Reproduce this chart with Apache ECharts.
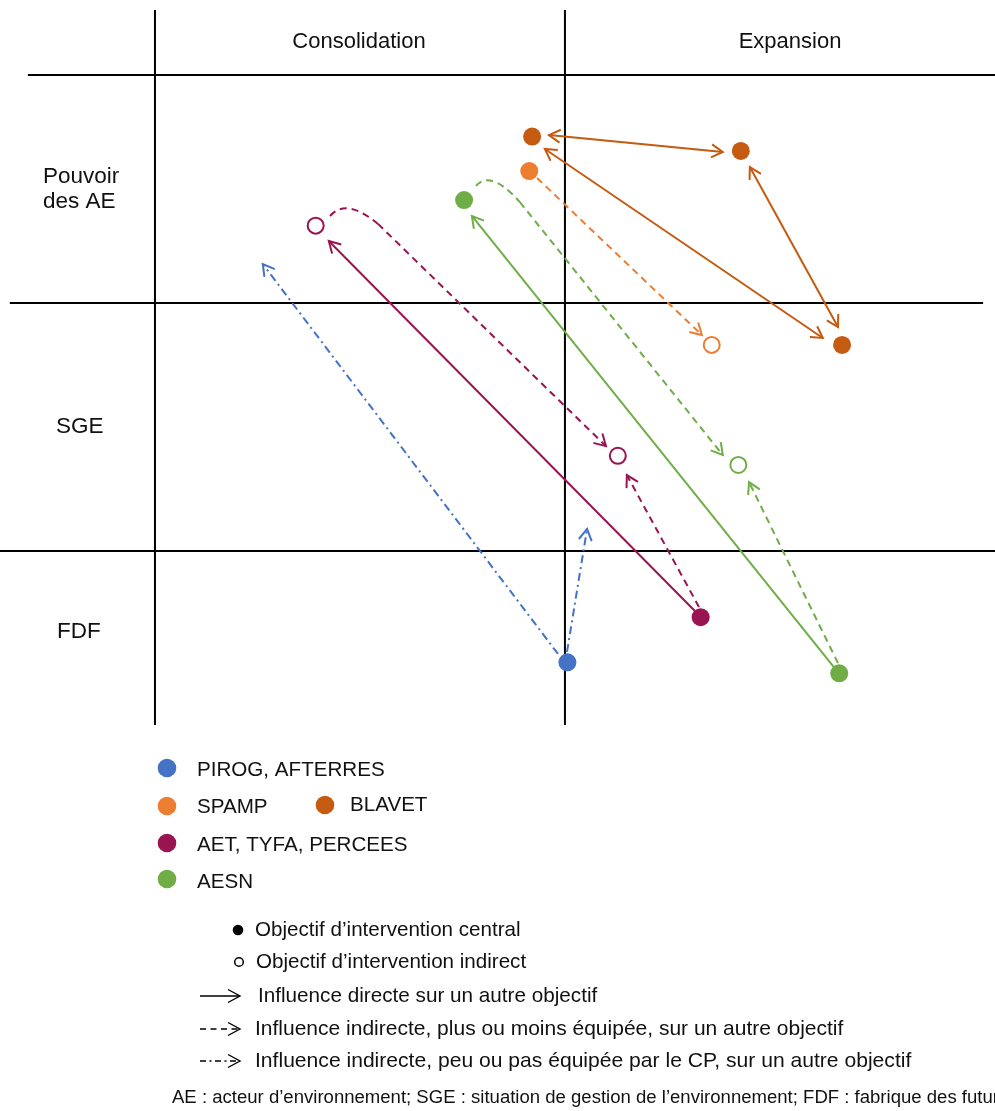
<!DOCTYPE html>
<html><head><meta charset="utf-8">
<script src="https://cdn.jsdelivr.net/npm/echarts/dist/echarts.min.js"></script>
<style>html,body{margin:0;padding:0;background:#fff}#c{width:995px;height:1111px}</style>
</head><body><div id="c"></div><script>
// ---- Data (diagram units: x = Consolidation(-10..0) / Expansion(0..10); y = FDF(<0), SGE(0..10), Pouvoir des AE(>10))
const columnLabels = ['Consolidation', 'Expansion'];
const rowLabels = ['Pouvoir\ndes AE', 'SGE', 'FDF'];
const groupNames = ['PIROG, AFTERRES', 'SPAMP', 'BLAVET', 'AET, TYFA, PERCEES', 'AESN'];

const pirogCentral = [[0.06, -4.49]];
const pirogIndirect = [];
const spampCentral = [[-0.87, 15.32]];
const spampIndirect = [[3.58, 8.31]];
const blavetCentral = [[-0.80, 16.71], [4.29, 16.13], [6.76, 8.31]];
const blavetIndirect = [];
const aetCentral = [[3.31, -2.67]];
const aetIndirect = [[-6.08, 13.12], [1.29, 3.84]];
const aesnCentral = [[-2.46, 14.15], [6.69, -4.93]];
const aesnIndirect = [[4.23, 3.47]];

// arrows: [kind, both ends, path points...] (5 points = start, 2 curve controls, curve end, line end)
const pirogArrows = [
  ['dashdot', false, [-0.17, -4.15], [-7.37, 11.57]],
  ['dashdot', false, [0.05, -4.07], [0.54, 0.89]]
];
const spampArrows = [
  ['dashed', false, [-0.68, 15.04], [3.34, 8.71]]
];
const blavetArrows = [
  ['solid', true, [-0.39, 16.77], [3.85, 16.09]],
  ['solid', true, [-0.49, 16.21], [6.29, 8.59]],
  ['solid', true, [4.51, 15.48], [6.66, 9.03]]
];
const aetArrows = [
  ['solid', false, [3.17, -2.42], [-5.76, 12.50]],
  ['dashed', false, [3.27, -2.26], [1.51, 3.06]],
  ['dashed', false, [-5.73, 13.51], [-5.51, 13.91], [-5.17, 14.03], [-4.56, 13.19], [1.00, 4.23]]
];
const aesnArrows = [
  ['solid', false, [6.56, -4.68], [-2.27, 13.51]],
  ['dashed', false, [6.66, -4.52], [4.49, 2.78]],
  ['dashed', false, [-2.17, 14.72], [-2.00, 15.08], [-1.66, 15.12], [-1.10, 14.07], [3.85, 3.87]]
];

const dividerLines = [
  [[-10, 21.81], [-10, -7.02]],
  [[0, 21.81], [0, -7.02]],
  [[-13.10, 19.19], [10.49, 19.19]],
  [[-13.54, 10], [10.20, 10]],
  [[-13.78, 0], [10.49, 0]]
];

// ---- Styles
const groupColors = ['#4472C4', '#ED7D31', '#C55A11', '#991551', '#70AD47'];
const FONT = '"Liberation Sans", Arial, Helvetica, sans-serif';
const DASH = { solid: null, dashed: [7, 5], dashdot: [8, 4, 2, 4] };

function chevron(tip, prev, len, ang) {
  const dx = tip[0] - prev[0], dy = tip[1] - prev[1];
  const L = Math.hypot(dx, dy) || 1;
  const ux = dx / L, uy = dy / L;
  const c = Math.cos(ang), s = Math.sin(ang);
  const a1 = [tip[0] - len * (ux * c - uy * s), tip[1] - len * (ux * s + uy * c)];
  const a2 = [tip[0] - len * (ux * c + uy * s), tip[1] - len * (-ux * s + uy * c)];
  return [a1, tip, a2];
}

function arrowSeries(arrows, color) {
  return {
    type: 'custom', z: 3, silent: true,
    data: arrows.map((a, i) => [i, 0]),
    renderItem: function (params, api) {
      const a = arrows[api.value(0)];
      const pts = a.slice(2).map(p => api.coord(p));
      const st = { stroke: color, lineWidth: 2, fill: null, lineDash: DASH[a[0]] };
      const children = [];
      let prevEnd;
      if (pts.length === 5) {
        children.push({ type: 'bezierCurve', shape: { x1: pts[0][0], y1: pts[0][1], cpx1: pts[1][0], cpy1: pts[1][1], cpx2: pts[2][0], cpy2: pts[2][1], x2: pts[3][0], y2: pts[3][1] }, style: st });
        children.push({ type: 'line', shape: { x1: pts[3][0], y1: pts[3][1], x2: pts[4][0], y2: pts[4][1] }, style: st });
        prevEnd = pts[3];
      } else {
        children.push({ type: 'line', shape: { x1: pts[0][0], y1: pts[0][1], x2: pts[1][0], y2: pts[1][1] }, style: st });
        prevEnd = pts[0];
      }
      const hs = { stroke: color, lineWidth: 2, fill: null };
      const ang = 30 * Math.PI / 180;
      children.push({ type: 'polyline', shape: { points: chevron(pts[pts.length - 1], prevEnd, 13, ang) }, style: hs });
      if (a[1]) children.push({ type: 'polyline', shape: { points: chevron(pts[0], pts[1], 13, ang) }, style: hs });
      return { type: 'group', children: children };
    }
  };
}

function centralSeries(data, color) {
  return { type: 'scatter', z: 5, silent: true, symbol: 'circle', symbolSize: 18, data: data, itemStyle: { color: color, opacity: 1 } };
}
function indirectSeries(data, color) {
  return { type: 'scatter', z: 5, silent: true, symbol: 'circle', symbolSize: 16, data: data, itemStyle: { color: '#fff', borderColor: color, borderWidth: 2, opacity: 1 } };
}

const dividerSeries = {
  type: 'custom', z: 1, silent: true,
  data: dividerLines.map((d, i) => [i, 0]),
  renderItem: function (params, api) {
    const d = dividerLines[api.value(0)];
    const p0 = api.coord(d[0]), p1 = api.coord(d[1]);
    return { type: 'line', shape: { x1: p0[0], y1: p0[1], x2: p1[0], y2: p1[1] }, style: { stroke: '#000', lineWidth: 2 } };
  }
};

const allCentral = [pirogCentral, spampCentral, blavetCentral, aetCentral, aesnCentral];
const allIndirect = [pirogIndirect, spampIndirect, blavetIndirect, aetIndirect, aesnIndirect];
const allArrows = [pirogArrows, spampArrows, blavetArrows, aetArrows, aesnArrows];

const series = [dividerSeries];
for (let g = 0; g < groupNames.length; g++) {
  series.push(arrowSeries(allArrows[g], groupColors[g]));
  series.push(centralSeries(allCentral[g], groupColors[g]));
  series.push(indirectSeries(allIndirect[g], groupColors[g]));
}

// ---- Layout texts / legend (graphic)
function txt(x, y, text, size, opts, extra) {
  return Object.assign({ type: 'text', x: x, y: y, silent: true,
    style: Object.assign({ text: text, font: size + 'px ' + FONT, fill: '#111', textVerticalAlign: 'middle', verticalAlign: 'middle' }, (opts || {})) }, extra || {});
}
const graphics = [];
graphics.push(txt(359, 42, columnLabels[0], 22, { textAlign: 'center', align: 'center' }));
graphics.push(txt(790, 42, columnLabels[1], 22, { textAlign: 'center', align: 'center' }));
graphics.push(txt(43, 189, rowLabels[0], 22.5, { lineHeight: 25 }));
graphics.push(txt(56, 427, rowLabels[1], 22.5));
graphics.push(txt(57, 632, rowLabels[2], 22.5));

const legendPos = [[167, 768, 197, 770], [167, 806, 197, 807], [325, 805, 350, 805], [167, 843, 197, 845], [167, 879, 197, 882]];
for (let g = 0; g < groupNames.length; g++) {
  const p = legendPos[g];
  graphics.push({ type: 'circle', silent: true, shape: { cx: p[0], cy: p[1], r: 9.3 }, style: { fill: groupColors[g] } });
  graphics.push(txt(p[2], p[3], groupNames[g], 20.6));
}
const symbolTexts = ['Objectif d\u2019intervention central', 'Objectif d\u2019intervention indirect',
  'Influence directe sur un autre objectif',
  'Influence indirecte, plus ou moins \u00e9quip\u00e9e, sur un autre objectif',
  'Influence indirecte, peu ou pas \u00e9quip\u00e9e par le CP, sur un autre objectif'];
graphics.push({ type: 'circle', silent: true, shape: { cx: 238, cy: 930, r: 5.3 }, style: { fill: '#000' } });
graphics.push({ type: 'circle', silent: true, shape: { cx: 239, cy: 962, r: 4.3 }, style: { fill: '#fff', stroke: '#000', lineWidth: 1.5 } });
graphics.push(txt(255, 930, symbolTexts[0], 20.6));
graphics.push(txt(256, 962, symbolTexts[1], 20.6));
const legLines = [[996, null, 258, 20.7], [1029, [6, 4.5], 255, 21], [1061, [6, 3.5, 2, 3.5], 255, 21.1]];
for (let i = 0; i < 3; i++) {
  const L = legLines[i];
  graphics.push({ type: 'line', silent: true, shape: { x1: 200, y1: L[0], x2: 239, y2: L[0] }, style: { stroke: '#000', lineWidth: 1.4, lineDash: L[1] } });
  graphics.push({ type: 'polyline', silent: true, shape: { points: [[228, L[0] - 6.5], [240, L[0]], [228, L[0] + 6.5]] }, style: { stroke: '#000', lineWidth: 1.4, fill: null } });
  graphics.push(txt(L[2], L[0], symbolTexts[2 + i], L[3]));
}
graphics.push(txt(172, 1098, 'AE : acteur d\u2019environnement; SGE : situation de gestion de l\u2019environnement; FDF : fabrique des futurs', 17.5,
  {}, { scaleX: 1.06 }));

const chart = echarts.init(document.getElementById('c'), null, { renderer: 'canvas' });
chart.setOption({
  backgroundColor: '#fff',
  animation: false,
  grid: { left: 0, right: 0, top: 0, height: 725, containLabel: false },
  xAxis: { type: 'value', min: -13.78, max: 10.49, show: false },
  yAxis: { type: 'value', min: -7.016, max: 22.218, show: false },
  series: series,
  graphic: graphics
});
</script></body></html>
